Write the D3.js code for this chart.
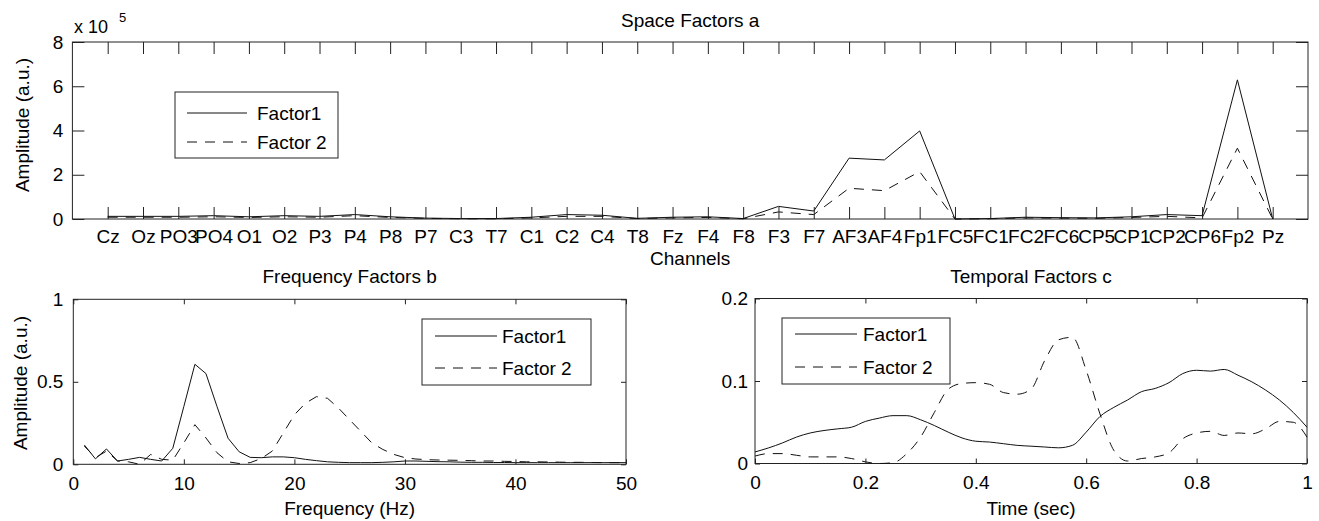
<!DOCTYPE html>
<html>
<head>
<meta charset="utf-8">
<script src="https://cdn.jsdelivr.net/npm/d3@7"></script>
<style>
  body { margin: 0; background: #fff; }
  svg { display: block; font-family: "Liberation Sans", Arial, sans-serif; }
  .tick text { font-size: 19px; fill: #000; }
</style>
</head>
<body>
<script>
// Space factors (amplitude x 10^5), one value per channel
const channels = ["Cz", "Oz", "PO3", "PO4", "O1", "O2", "P3", "P4", "P8", "P7", "C3", "T7", "C1", "C2", "C4", "T8", "Fz", "F4", "F8", "F3", "F7", "AF3", "AF4", "Fp1", "FC5", "FC1", "FC2", "FC6", "CP5", "CP1", "CP2", "CP6", "Fp2", "Pz"]
const spaceF1 = [0.12, 0.12, 0.12, 0.15, 0.1, 0.15, 0.12, 0.2, 0.1, 0.04, 0.02, 0.02, 0.08, 0.2, 0.17, 0.03, 0.08, 0.1, 0.02, 0.57, 0.36, 2.75, 2.67, 3.98, 0.0, 0.02, 0.08, 0.06, 0.05, 0.1, 0.2, 0.15, 6.29, 0.0]
const spaceF2 = [0.08, 0.08, 0.08, 0.1, 0.07, 0.1, 0.08, 0.15, 0.07, 0.03, 0.01, 0.01, 0.05, 0.12, 0.12, 0.02, 0.05, 0.07, 0.01, 0.32, 0.2, 1.39, 1.28, 2.14, 0.0, 0.01, 0.05, 0.04, 0.03, 0.07, 0.12, 0.05, 3.2, 0.0]
const spaceTicksY = [0, 2, 4, 6, 8]

// Frequency factors, 1..50 Hz
const freqs = d3.range(1, 51)
const freqF1 = [0.117, 0.033, 0.093, 0.02, 0.03, 0.042, 0.03, 0.02, 0.097, 0.35,
    0.606, 0.55, 0.35, 0.158, 0.076, 0.042, 0.04, 0.045, 0.045, 0.04,
    0.03, 0.022, 0.015, 0.012, 0.01, 0.01, 0.01, 0.012, 0.015, 0.02,
    0.02, 0.018, 0.016, 0.015, 0.013, 0.012, 0.012, 0.011, 0.011, 0.01,
    0.01, 0.01, 0.01, 0.01, 0.01, 0.01, 0.01, 0.01, 0.01, 0.01]
const freqF2 = [0.11, 0.04, 0.08, 0.02, 0.015, 0.0, 0.06, 0.03, 0.025, 0.13,
    0.24, 0.16, 0.07, 0.015, 0.005, 0.01, 0.035, 0.08, 0.19, 0.3,
    0.37, 0.41, 0.4, 0.34, 0.27, 0.2, 0.13, 0.09, 0.06, 0.04,
    0.032, 0.028, 0.026, 0.025, 0.024, 0.022, 0.02, 0.02, 0.018, 0.017,
    0.015, 0.015, 0.014, 0.013, 0.012, 0.012, 0.011, 0.01, 0.01, 0.01]
const freqTicksX = [0, 10, 20, 30, 40, 50]
const freqTicksY = [0, 0.5, 1]

// Temporal factors, 0..1 sec
const times = [0, 0.025, 0.05, 0.075, 0.1, 0.125, 0.15, 0.175, 0.2, 0.225, 0.25, 0.275, 0.3, 0.325, 0.35, 0.375, 0.4, 0.425, 0.45, 0.475,
    0.5, 0.525, 0.55, 0.575, 0.6, 0.625, 0.65, 0.675, 0.7, 0.725, 0.75, 0.775, 0.8, 0.825, 0.85, 0.875, 0.9, 0.925, 0.95, 0.975, 1]
const tempF1 = [0.014, 0.019, 0.025, 0.032, 0.037, 0.04, 0.042, 0.044, 0.051, 0.055, 0.058, 0.058, 0.053, 0.046, 0.038, 0.031, 0.027, 0.026, 0.024, 0.022,
    0.021, 0.02, 0.019, 0.022, 0.038, 0.057, 0.068, 0.077, 0.087, 0.091, 0.098, 0.109, 0.113, 0.112, 0.114, 0.107, 0.099, 0.089, 0.077, 0.062, 0.044]
const tempF2 = [0.009, 0.012, 0.012, 0.01, 0.008, 0.008, 0.008, 0.006, 0.002, 0.0, 0.001, 0.012, 0.032, 0.062, 0.09, 0.097, 0.098, 0.096, 0.086, 0.084,
    0.09, 0.125, 0.15, 0.153, 0.113, 0.06, 0.016, 0.003, 0.006, 0.008, 0.013, 0.03, 0.037, 0.039, 0.034, 0.037, 0.036, 0.042, 0.051, 0.05, 0.032]
const timeTicksX = [0, 0.2, 0.4, 0.6, 0.8, 1]
const timeTicksY = [0, 0.1, 0.2]

const seriesNames = ["Factor1", "Factor 2"]
const fontSize = "19px"

const svg = d3.select("body").append("svg")
    .attr("width", 1319)
    .attr("height", 521)

svg.append("rect").attr("width", 1319).attr("height", 521).attr("fill", "#fff")

function drawPanel(p) {
    const x = d3.scaleLinear().domain(p.xDomain).range([p.left, p.right])
    const y = d3.scaleLinear().domain(p.yDomain).range([p.bottom, p.top])
    const g = svg.append("g")

    // box + inward ticks on all four sides
    g.append("g")
        .attr("transform", `translate(0, ${p.bottom})`)
        .call(d3.axisBottom(x).tickValues(p.xTicks).tickSizeInner(-p.tick).tickSizeOuter(0)
            .tickPadding(p.xPad).tickFormat(p.xFormat))
    g.append("g")
        .attr("transform", `translate(0, ${p.top})`)
        .call(d3.axisTop(x).tickValues(p.xTicks).tickSizeInner(-p.tick).tickSizeOuter(0).tickFormat(""))
    g.append("g")
        .attr("transform", `translate(${p.left}, 0)`)
        .call(d3.axisLeft(y).tickValues(p.yTicks).tickSizeInner(-p.tick).tickSizeOuter(0)
            .tickPadding(p.yPad).tickFormat(d3.format("")))
    g.append("g")
        .attr("transform", `translate(${p.right}, 0)`)
        .call(d3.axisRight(y).tickValues(p.yTicks).tickSizeInner(-p.tick).tickSizeOuter(0).tickFormat(""))
    g.selectAll(".domain").remove()
    g.selectAll(".tick line").attr("stroke", "#222")
    g.append("rect")
        .attr("x", p.left).attr("y", p.top)
        .attr("width", p.right - p.left).attr("height", p.bottom - p.top)
        .attr("fill", "none").attr("stroke", "#222").attr("stroke-width", 1)

    // lines
    const line = d3.line()
        .x(d => x(d[0]))
        .y(d => y(d[1]))
        .curve(p.curve || d3.curveLinear)
    const dashes = [null, "10,8"]
    p.series.forEach(function (vals, i) {
        g.append("path")
            .datum(p.xs.map((v, j) => [v, vals[j]]))
            .attr("d", line)
            .attr("fill", "none")
            .attr("stroke", "#111")
            .attr("stroke-width", 1)
            .attr("stroke-dasharray", dashes[i])
    })

    // titles
    g.append("text")
        .attr("x", (p.left + p.right) / 2).attr("y", p.titleY)
        .attr("text-anchor", "middle").style("font-size", fontSize)
        .text(p.title)
    g.append("text")
        .attr("x", (p.left + p.right) / 2).attr("y", p.xLabelY)
        .attr("text-anchor", "middle").style("font-size", fontSize)
        .text(p.xLabel)
    if (p.yLabel) {
        g.append("text")
            .attr("transform", `translate(${p.yLabelX}, ${p.yLabelY}) rotate(-90)`)
            .attr("text-anchor", "middle").style("font-size", fontSize)
            .text(p.yLabel)
    }

    // legend
    const L = p.legend
    g.append("rect")
        .attr("x", L.x0).attr("y", L.y0)
        .attr("width", L.x1 - L.x0).attr("height", L.y1 - L.y0)
        .attr("fill", "#fff").attr("stroke", "#222")
    seriesNames.forEach(function (name, i) {
        const ry = L.rows[i]
        g.append("line")
            .attr("x1", L.lineX0).attr("x2", L.lineX1)
            .attr("y1", ry).attr("y2", ry)
            .attr("stroke", "#111").attr("stroke-width", 1)
            .attr("stroke-dasharray", dashes[i])
        g.append("text")
            .attr("x", L.textX).attr("y", ry + 7)
            .style("font-size", fontSize)
            .text(name)
    })
    return g
}

// Space Factors a
const spacePanel = drawPanel({
    left: 72.4, right: 1308, top: 42, bottom: 219, tick: 12,
    xDomain: [0, 35], yDomain: [0, 8],
    xTicks: d3.range(1, channels.length + 1), yTicks: spaceTicksY,
    xFormat: d => channels[d - 1], xPad: 11, yPad: 9,
    xs: d3.range(1, channels.length + 1), series: [spaceF1, spaceF2],
    title: "Space Factors a", titleY: 27,
    xLabel: "Channels", xLabelY: 265,
    yLabel: "Amplitude (a.u.)", yLabelX: 29, yLabelY: 125,
    legend: { x0: 175, y0: 92, x1: 338, y1: 158, lineX0: 187, lineX1: 247, textX: 257, rows: [113, 142] }
})
const expo = spacePanel.append("text").attr("x", 74).attr("y", 33).style("font-size", "18px")
expo.append("tspan").text("x 10")
expo.append("tspan").attr("x", 119).attr("y", 22).style("font-size", "13px").text("5")

// Frequency Factors b
drawPanel({
    left: 73.3, right: 626, top: 299.3, bottom: 464.3, tick: 5,
    xDomain: [0, 50], yDomain: [0, 1],
    xTicks: freqTicksX, yTicks: freqTicksY,
    xFormat: d3.format(""), xPad: 12, yPad: 10,
    xs: freqs, series: [freqF1, freqF2],
    title: "Frequency Factors b", titleY: 283,
    xLabel: "Frequency (Hz)", xLabelY: 515,
    yLabel: "Amplitude (a.u.)", yLabelX: 27, yLabelY: 383,
    legend: { x0: 422, y0: 319, x1: 591, y1: 385, lineX0: 435, lineX1: 497, textX: 502, rows: [336, 368] }
})

// Temporal Factors c
drawPanel({
    left: 755, right: 1307, top: 298.5, bottom: 463.5, tick: 5,
    xDomain: [0, 1], yDomain: [0, 0.2],
    xTicks: timeTicksX, yTicks: timeTicksY,
    xFormat: d3.format(""), xPad: 12, yPad: 7,
    xs: times, series: [tempF1, tempF2], curve: d3.curveMonotoneX,
    title: "Temporal Factors c", titleY: 283,
    xLabel: "Time (sec)", xLabelY: 515,
    legend: { x0: 782, y0: 318, x1: 950, y1: 384, lineX0: 795, lineX1: 857, textX: 863, rows: [334, 367] }
})
</script>
</body>
</html>
